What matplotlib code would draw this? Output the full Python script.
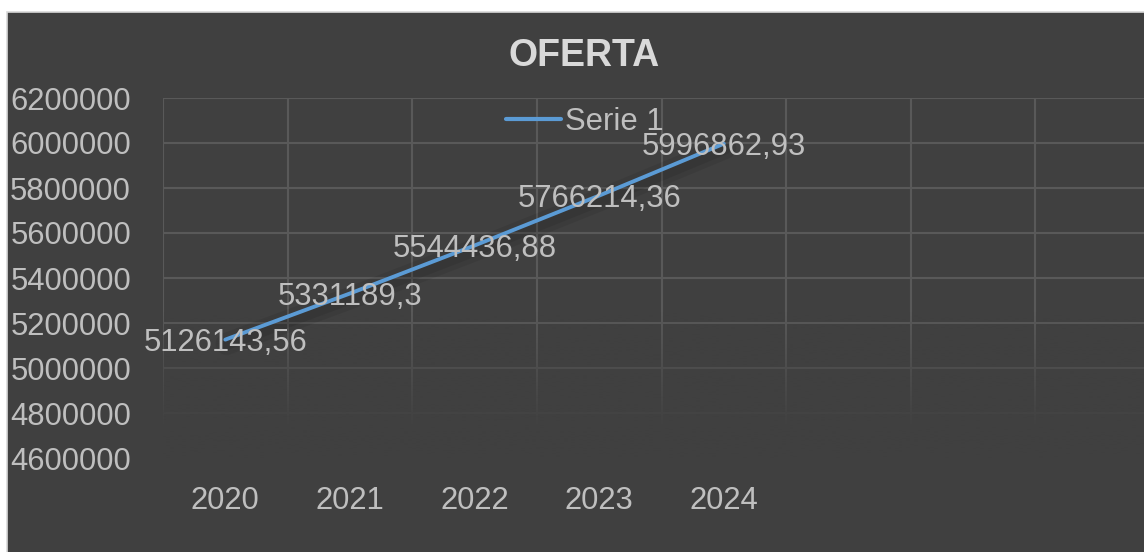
import matplotlib.pyplot as plt
import matplotlib.patheffects as pe
from matplotlib.patches import Rectangle
import numpy as np

plt.rcParams['font.family'] = ['Liberation Sans', 'DejaVu Sans']

# data
years = ['2020', '2021', '2022', '2023', '2024']
oferta = [5126143.56, 5331189.3, 5544436.88, 5766214.36, 5996862.93]
point_labels = ['5126143,56', '5331189,3', '5544436,88', '5766214,36', '5996862,93']
y_ticks = [4600000, 4800000, 5000000, 5200000, 5400000, 5600000, 5800000, 6000000, 6200000]
n_slots = 8  # category slots of the axis (only 5 have data)

BG = '#404040'
GRID = '#595959'
TXT = '#BFBFBF'
LINE = '#5B9BD5'

W, H = 1144, 552
fig = plt.figure(figsize=(W / 100, H / 100), dpi=100, facecolor='white')

# chart area with light border (clipped on the right / bottom)
fig.add_artist(Rectangle((7 / W, -0.1), 1.2, (H - 12) / H + 0.1,
                         transform=fig.transFigure, facecolor=BG,
                         edgecolor='#D9D9D9', linewidth=1.2, zorder=-10))

ax = fig.add_axes([163 / W, (H - 458) / H, 997 / W, 360 / H])
ax.set_facecolor('none')
for s in ax.spines.values():
    s.set_visible(False)

x = np.arange(len(years))

# grid (horizontal at ticks, vertical at slot boundaries)
for yv in y_ticks:
    ax.axhline(yv, color=GRID, lw=1.5, zorder=0.5)
for b in np.arange(-0.5, n_slots, 1.0):
    ax.axvline(b, color=GRID, lw=1.5, zorder=0.5)

# fade the bottom of the grid (opaque at the bottom, clear at the top)
grad = np.zeros((200, 1, 4))
grad[..., :3] = np.array([0x40, 0x40, 0x40]) / 255
grad[:, 0, 3] = np.clip((1 - np.linspace(0, 1, 200)) / 0.8, 0, 1)
ax.imshow(grad, extent=(-0.5, n_slots - 0.5, 4600000, 5250000), aspect='auto',
          origin='lower', zorder=1, interpolation='bilinear')
ax.set_xlim(-0.5, n_slots - 0.5)
ax.set_ylim(y_ticks[0], y_ticks[-1])

ax.plot(x, oferta, color=LINE, lw=2.8, solid_capstyle='round', zorder=3,
        label='Serie 1',
        path_effects=[pe.SimpleLineShadow(offset=(1, -3), shadow_color='black',
                                          alpha=0.07, linewidth=16),
                      pe.SimpleLineShadow(offset=(1, -3), shadow_color='black',
                                          alpha=0.08, linewidth=9),
                      pe.Normal()])

for xi, yi, lab in zip(x, oferta, point_labels):
    ax.annotate(lab, (xi, yi), xytext=(0, -2.5), textcoords='offset points',
                ha='center', va='center', fontsize=22.3, color=TXT, zorder=4)

ax.set_xticks(x)
ax.set_xticklabels(years)
ax.set_yticks(y_ticks)
ax.set_yticklabels([str(v) for v in y_ticks])
ax.tick_params(axis='both', length=0, labelsize=22.3, labelcolor=TXT)
ax.tick_params(axis='x', pad=20)
ax.tick_params(axis='y', pad=23)

fig.text(584 / W, (H - 56) / H, 'OFERTA', ha='center', va='center',
         fontsize=27, fontweight='bold', color='#D9D9D9')

leg = ax.legend(loc='center', bbox_to_anchor=(585 / W, (H - 122) / H),
                bbox_transform=fig.transFigure, frameon=False, fontsize=22.3,
                handlelength=1.77, handletextpad=0.15, borderpad=0, borderaxespad=0)
for t in leg.get_texts():
    t.set_color(TXT)
for h in leg.legend_handles:
    h.set_path_effects([])
    h.set_linewidth(3)

fig.savefig('out.png', dpi=100, facecolor='white')
